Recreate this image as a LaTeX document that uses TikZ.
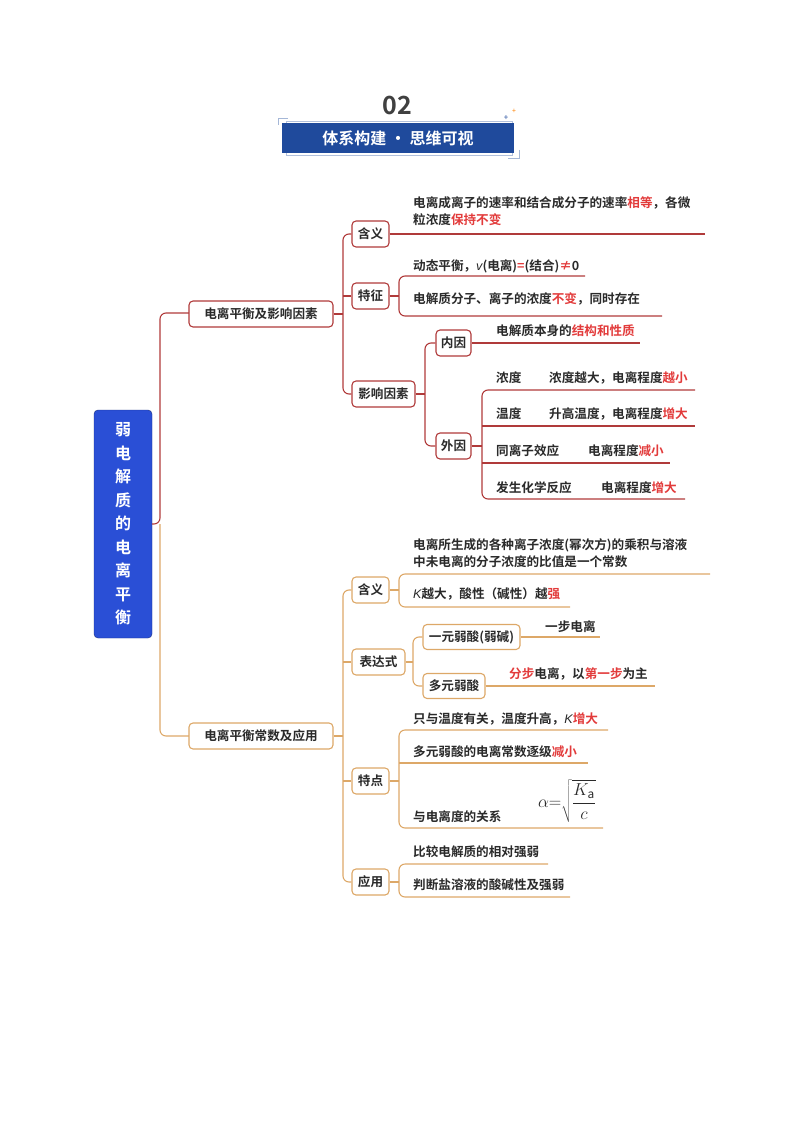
\documentclass[tikz,border=0pt]{standalone}
\usepackage{fontspec}
\setmainfont{Noto Sans CJK SC}[BoldFont={Noto Sans CJK SC Bold}]
\newfontfamily\cjkb{Noto Sans CJK SC Bold}
\newfontfamily\latb{Liberation Sans}[ItalicFont={Liberation Sans Italic}]
\definecolor{rline}{HTML}{B03A3A}
\definecolor{oline}{HTML}{DDA868}
\definecolor{hl}{HTML}{E23B3B}
\definecolor{tx}{HTML}{2A2A2A}
\definecolor{cblue}{HTML}{2A4FD6}
\definecolor{bar}{HTML}{1F4A9C}
\newcommand{\hlt}[1]{\textcolor{hl}{#1}}
\newcommand{\ivar}[1]{{\latb\itshape #1}}
\begin{document}
\begin{tikzpicture}[x=1pt,y=-1pt,
  box/.style={draw=#1,line width=1.1pt,rounded corners=4pt,fill=white,text=tx,font=\cjkb\fontsize{12.6}{14}\selectfont,inner sep=0pt,minimum height=26pt},
  t/.style={anchor=base west,text=tx,font=\cjkb\fontsize{12.6}{15}\selectfont,inner sep=0pt},
  rl/.style={draw=rline,line width=1.1pt,rounded corners=6pt},
  ol/.style={draw=oline,line width=1.1pt,rounded corners=6pt}]
\useasboundingbox (0,0) rectangle (794,1123);
% header
\node[text=black!75,font=\cjkb\fontsize{25}{25}\selectfont] (n02) at (397,105) {02};
\draw[draw=bar!40,line width=0.8pt] (278,125) -- (278,118) -- (288,118);
\draw[draw=bar!40,line width=0.8pt] (519,150) -- (519,158) -- (508,158);
\draw[draw=bar!35,line width=1pt] (286,122) rectangle (512,156);
\node[fill=bar,minimum width=232pt,minimum height=30pt,inner sep=0pt,text=white,font=\cjkb\fontsize{16}{16}\selectfont] (hdr) at (398,138) {体系构建 · 思维可视};
\node[font=\fontsize{8}{8}\selectfont,text=bar] (st1) at (506,118) {+};
\node[font=\fontsize{7}{7}\selectfont,text=orange] (st2) at (514,111) {+};
% centre
\node[fill=cblue,draw=cblue!60!black,rounded corners=4pt,minimum width=58pt,minimum height=228pt,inner sep=0pt,text=white,font=\cjkb\fontsize{16}{23.5}\selectfont,align=center] (c) at (123,524) {弱\\电\\解\\质\\的\\电\\离\\平\\衡};
\draw[rl] (c.east) -- (160,524) -- (160,313) -- (189,313);
\draw[ol] (160,524) -- (160,736) -- (189,736);
% top branch
\node[box=rline,minimum width=144pt] (a) at (261,314) {电离平衡及影响因素};
\node[box=rline,minimum width=37pt] (a1) at (370.5,234) {含义};
\node[box=rline,minimum width=37pt] (a2) at (370.5,296) {特征};
\node[box=rline,minimum width=63pt] (a3) at (383.5,394) {影响因素};
\draw[rl] (a.east) -- (343,314);
\draw[rl] (a1.west) -| (343,394) -- (a3.west);
\draw[rl] (343,296) -- (a2.west);
\draw[rl] (a1.east) -- (705,234);
\node[t] (a1t1) at (413,208) {电离成离子的速率和结合成分子的速率\hlt{相等}，各微};
\node[t] (a1t2) at (413,225) {粒浓度\hlt{保持不变}};
\draw[rl] (a2.east) -- (399,296);
\draw[rl] (585,276) -- (399,276) -- (399,316) -- (662,316);
\node[t] (a2t1) at (413,270) {动态平衡，\ivar{v}(电离)\hlt{=}(结合)\hlt{≠}0};
\node[t] (a2t2) at (413,303) {电解质分子、离子的浓度\hlt{不变}，同时存在};
\node[box=rline,minimum width=35pt] (b1) at (453.5,343) {内因};
\node[box=rline,minimum width=35pt] (b2) at (453.5,446) {外因};
\draw[rl] (a3.east) -- (425,394);
\draw[rl] (b1.west) -| (425,446) -- (b2.west);
\draw[rl] (b1.east) -- (640,343);
\node[t] (b1t) at (496,335) {电解质本身的\hlt{结构和性质}};
\draw[rl] (b2.east) -- (482,446);
\draw[rl] (695,390) -- (482,390) -- (482,499) -- (685,499);
\draw[rl] (482,426) -- (695,426);
\draw[rl] (482,463) -- (670,463);
\node[t] (w1) at (496,382) {浓度};
\node[t] (w1b) at (549,382) {浓度越大，电离程度\hlt{越小}};
\node[t] (w2) at (496,418) {温度};
\node[t] (w2b) at (549,418) {升高温度，电离程度\hlt{增大}};
\node[t] (w3) at (496,455) {同离子效应};
\node[t] (w3b) at (588,455) {电离程度\hlt{减小}};
\node[t] (w4) at (496,492) {发生化学反应};
\node[t] (w4b) at (601,492) {电离程度\hlt{增大}};
% bottom branch
\node[box=oline,minimum width=144pt] (d) at (261,736) {电离平衡常数及应用};
\node[box=oline,minimum width=37pt] (d1) at (370.5,590) {含义};
\node[box=oline,minimum width=53pt] (d2) at (378.5,662) {表达式};
\node[box=oline,minimum width=37pt] (d3) at (370.5,781) {特点};
\node[box=oline,minimum width=37pt] (d4) at (370.5,882) {应用};
\draw[ol] (d.east) -- (343,736);
\draw[ol] (d1.west) -| (343,882) -- (d4.west);
\draw[ol] (343,662) -- (d2.west);
\draw[ol] (343,781) -- (d3.west);
\draw[ol] (d1.east) -- (399,590);
\draw[ol] (710,574) -- (399,574) -- (399,607) -- (570,607);
\node[t] (d1t1) at (413,549) {电离所生成的各种离子浓度(幂次方)的乘积与溶液};
\node[t] (d1t2) at (413,566) {中未电离的分子浓度的比值是一个常数};
\node[t] (d1t3) at (413,598) {\ivar{K}越大，酸性（碱性）越\hlt{强}};
\node[box=oline,minimum width=97pt,minimum height=25pt] (e1) at (471.5,637) {一元弱酸(弱碱)};
\node[box=oline,minimum width=62pt,minimum height=25pt] (e2) at (454,686) {多元弱酸};
\draw[ol] (d2.east) -- (413,662);
\draw[ol] (e1.west) -| (413,686) -- (e2.west);
\draw[ol] (e1.east) -- (600,637);
\draw[ol] (e2.east) -- (655,686);
\node[t] (e1t) at (545,631) {一步电离};
\node[t] (e2t) at (509,678) {\hlt{分步}电离，以\hlt{第一步}为主};
\draw[ol] (d3.east) -- (399,781);
\draw[ol] (608,730) -- (399,730) -- (399,828) -- (603,828);
\draw[ol] (399,763) -- (588,763);
\node[t] (f1) at (413,723) {只与温度有关，温度升高，\ivar{K}\hlt{增大}};
\node[t] (f2) at (413,756) {多元弱酸的电离常数逐级\hlt{减小}};
\node[t] (f3) at (413,821) {与电离度的关系};
\node[text=tx,inner sep=0pt,font=\fontsize{17}{17}\selectfont] (f4) at (567,801) {$\alpha{=}\sqrt{\displaystyle\frac{K_{\mathrm a}}{c}}$};
\draw[ol] (d4.east) -- (399,882);
\draw[ol] (548,864) -- (399,864) -- (399,897) -- (570,897);
\node[t] (g1) at (413,856) {比较电解质的相对强弱};
\node[t] (g2) at (413,889) {判断盐溶液的酸碱性及强弱};
\end{tikzpicture}
\end{document}
